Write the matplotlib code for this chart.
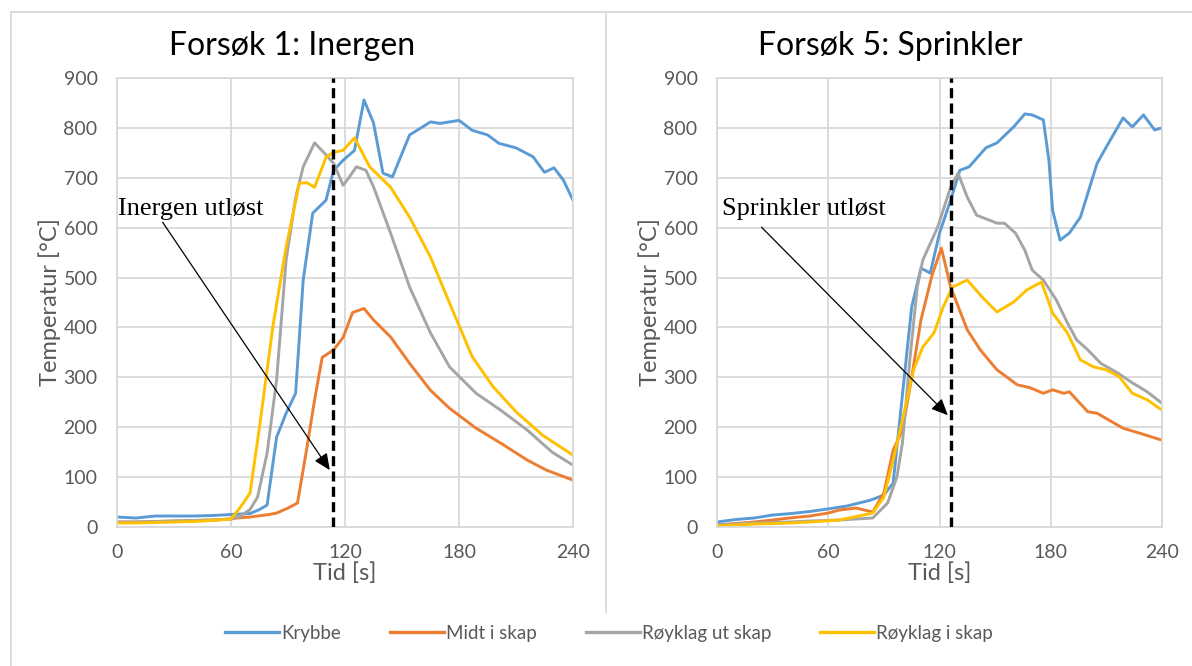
import matplotlib
matplotlib.use("Agg")
import matplotlib.pyplot as plt
from matplotlib.lines import Line2D

plt.rcParams["font.family"] = ["Lato", "DejaVu Sans"]

# ---- data ----------------------------------------------------------------

SERIES = ["Krybbe", "Midt i skap", "Røyklag ut skap", "Røyklag i skap"]
COLOURS = ["#5B9BD5", "#ED7D31", "#A5A5A5", "#FFC000"]

# Forsøk 1: Inergen
inergen_krybbe_t = [0, 10, 20, 30, 40, 50, 60, 70, 75, 79, 84, 89, 94, 98, 103, 110, 114,
                    119, 125, 130, 135, 140, 145, 154, 160, 165, 170, 180, 187, 195, 201,
                    210, 219, 225, 230, 235, 240]
inergen_krybbe_v = [20, 18, 22, 22, 22, 23, 25, 27, 35, 44, 180, 228, 268, 495, 629, 655, 715,
                    735, 755, 856, 810, 709, 702, 786, 800, 812, 809, 815, 795, 786, 769,
                    760, 742, 711, 720, 695, 655]

inergen_midt_t = [0, 10, 20, 30, 40, 50, 60, 63, 70, 80, 84, 90, 95, 100, 104, 108, 114, 119,
                  124, 130, 135, 144, 154, 165, 175, 189, 202, 216, 226, 240]
inergen_midt_v = [10, 10, 11, 12, 13, 14, 16, 18, 20, 25, 28, 38, 48, 160, 255, 340, 355, 380,
                  430, 438, 415, 381, 328, 274, 238, 198, 168, 134, 114, 94]

inergen_ut_t = [0, 10, 20, 30, 40, 50, 60, 65, 70, 74, 79, 84, 89, 94, 98, 104, 109, 114, 119,
                122, 126, 131, 135, 144, 154, 165, 175, 189, 202, 216, 229, 240]
inergen_ut_v = [10, 10, 11, 12, 13, 14, 16, 22, 35, 60, 148, 295, 535, 660, 722, 770, 750, 729,
                685, 700, 722, 715, 682, 589, 481, 389, 321, 268, 234, 194, 150, 124]

inergen_i_t = [0, 10, 20, 30, 40, 50, 60, 65, 70, 75, 82, 89, 96, 100, 104, 110, 114, 119, 125,
               133, 144, 154, 165, 175, 187, 198, 210, 224, 240]
inergen_i_v = [8, 8, 9, 10, 11, 13, 16, 40, 68, 200, 401, 561, 689, 690, 681, 741, 751, 755, 780,
               722, 681, 621, 541, 449, 341, 281, 231, 184, 144]

# Forsøk 5: Sprinkler
sprinkler_krybbe_t = [0, 10, 20, 30, 40, 50, 63, 70, 83, 90, 95, 101, 105, 110, 115, 120, 126,
                      131, 136, 145, 151, 160, 166, 170, 176, 179, 181, 185, 190, 196, 205,
                      210, 219, 224, 230, 236, 240]
sprinkler_krybbe_v = [10, 15, 18, 24, 27, 31, 38, 42, 54, 64, 88, 300, 441, 519, 509, 589, 655,
                      715, 722, 760, 770, 802, 828, 826, 816, 735, 635, 575, 589, 621, 729,
                      762, 820, 802, 826, 796, 800]

sprinkler_midt_t = [0, 10, 20, 30, 39, 50, 60, 66, 75, 84, 90, 95, 100, 105, 110, 116, 121, 126,
                    135, 142, 151, 162, 169, 176, 181, 187, 190, 200, 205, 219, 228, 240]
sprinkler_midt_v = [4, 7, 10, 14, 18, 22, 28, 34, 38, 30, 68, 154, 194, 300, 415, 505, 559, 481,
                    395, 355, 315, 285, 279, 268, 275, 268, 271, 231, 228, 198, 188, 174]

sprinkler_ut_t = [0, 10, 20, 30, 39, 50, 66, 84, 92, 97, 100, 104, 108, 111, 119, 126, 130, 135,
                  140, 151, 155, 161, 166, 170, 176, 183, 189, 194, 200, 207, 216, 224, 232, 240]
sprinkler_ut_v = [4, 6, 8, 9, 10, 12, 14, 18, 48, 100, 168, 335, 481, 535, 601, 681, 709, 661,
                  625, 609, 609, 589, 555, 515, 495, 455, 409, 375, 355, 328, 309, 289, 271, 248]

sprinkler_i_t = [0, 10, 20, 30, 39, 50, 66, 84, 90, 95, 100, 106, 111, 117, 122, 127, 135, 143,
                 151, 160, 167, 175, 181, 189, 196, 203, 210, 217, 224, 232, 240]
sprinkler_i_v = [2, 4, 6, 7, 8, 10, 14, 28, 60, 134, 214, 315, 361, 389, 441, 481, 495, 461,
                 431, 451, 475, 491, 429, 389, 335, 321, 315, 301, 268, 255, 234]

x_ticks = [0, 60, 120, 180, 240]
y_ticks = [0, 100, 200, 300, 400, 500, 600, 700, 800, 900]

# ---- drawing --------------------------------------------------------------

GRID = "#D9D9D9"
TEXT = "#595959"


def _panel(ax, series, release_t, label, label_xy, arrow_from, arrow_to):
    for (t, v), colour in zip(series, COLOURS):
        ax.plot(t, v, color=colour, linewidth=2.1, solid_joinstyle="round")
    ax.axvline(release_t, color="black", linewidth=2.4, linestyle=(0, (3, 1.6)), zorder=5)
    ax.set_xlim(0, 240)
    ax.set_ylim(0, 900)
    ax.set_xticks(x_ticks)
    ax.set_yticks(y_ticks)
    ax.grid(True, color=GRID, linewidth=1.3)
    ax.set_axisbelow(True)
    for s in ax.spines.values():
        s.set_color(GRID)
        s.set_linewidth(1.3)
    ax.tick_params(length=0, labelsize=14, labelcolor=TEXT)
    ax.tick_params(axis="y", pad=14)
    ax.tick_params(axis="x", pad=12)
    ax.set_xlabel("Tid [s]", fontsize=17, color=TEXT, labelpad=1)
    ax.set_ylabel("Temperatur [°C]", fontsize=17, color=TEXT, labelpad=2)
    ax.text(label_xy[0], label_xy[1], label, family="Liberation Serif", fontsize=19,
            color="black", ha="left", va="baseline")
    ax.annotate("", xy=arrow_to, xytext=arrow_from,
                arrowprops=dict(arrowstyle="-|>,head_length=1.0,head_width=0.45",
                                color="black", linewidth=0.9, shrinkA=0, shrinkB=0))


fig = plt.figure(figsize=(11.92, 6.66), dpi=100, facecolor="white")

# frame lines of the original screenshot
fig.add_artist(Line2D([11 / 1192, 1], [1 - 12 / 666] * 2, color=GRID, linewidth=1.3))
fig.add_artist(Line2D([11 / 1192] * 2, [0, 1 - 12 / 666], color=GRID, linewidth=1.3))
fig.add_artist(Line2D([606 / 1192] * 2, [1 - 612 / 666, 1 - 12 / 666], color=GRID, linewidth=1.3))

ax1 = fig.add_axes([117 / 1192, 1 - 527 / 666, 456 / 1192, 449 / 666])
_panel(ax1,
       [(inergen_krybbe_t, inergen_krybbe_v), (inergen_midt_t, inergen_midt_v),
        (inergen_ut_t, inergen_ut_v), (inergen_i_t, inergen_i_v)],
       113.8, "Inergen utløst", (0.5, 625), (24, 611), (112, 114))

ax2 = fig.add_axes([717 / 1192, 1 - 527 / 666, 445 / 1192, 449 / 666])
_panel(ax2,
       [(sprinkler_krybbe_t, sprinkler_krybbe_v), (sprinkler_midt_t, sprinkler_midt_v),
        (sprinkler_ut_t, sprinkler_ut_v), (sprinkler_i_t, sprinkler_i_v)],
       126.0, "Sprinkler utløst", (2.5, 625), (24, 601), (124.5, 224))

# titles are centred over the whole chart area, not the plot area
fig.text(292 / 1192, 1 - 46 / 666, "Forsøk 1: Inergen", fontsize=23, ha="center", va="center")
fig.text(890 / 1192, 1 - 46 / 666, "Forsøk 5: Sprinkler", fontsize=23, ha="center", va="center")

handles = [Line2D([], [], color=c, linewidth=2.4) for c in COLOURS]
fig.legend(handles, SERIES, loc="center", bbox_to_anchor=(609 / 1192, 1 - 633 / 666),
           ncol=4, frameon=False, fontsize=13.5, handlelength=2.9, handletextpad=0.1,
           columnspacing=2.6, labelcolor=TEXT)

fig.savefig("out.png", dpi=100, facecolor="white")
